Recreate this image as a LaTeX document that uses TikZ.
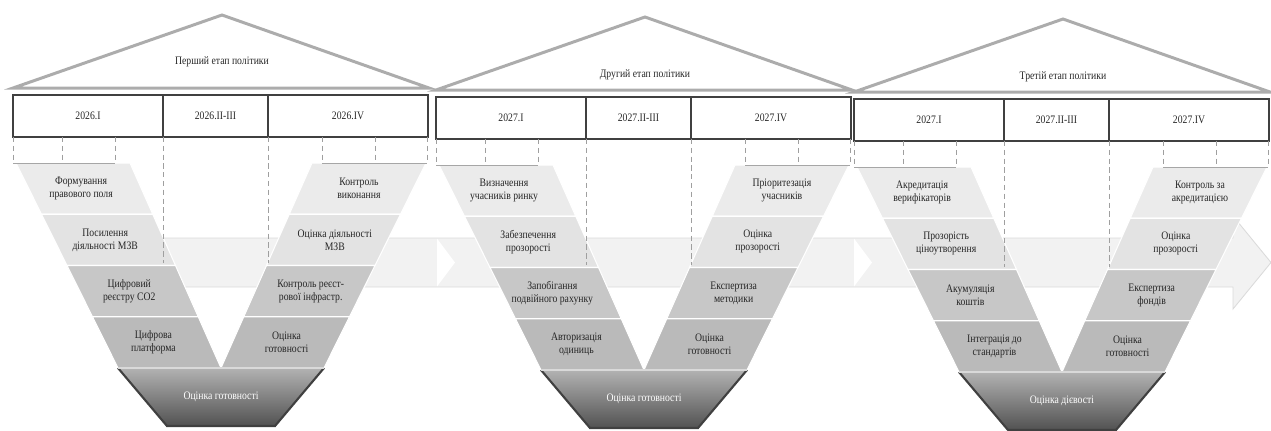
\documentclass[tikz,border=0pt]{standalone}
\usepackage{fontspec}
\setmainfont{Liberation Serif}[FakeStretch=0.85]
\usepackage{tikz}
\usetikzlibrary{calc}
\tikzset{roof/.style={draw=gray!65,line width=1.7pt,line join=miter},
  qbox/.style={draw=black!75,line width=0.8pt},
  tick/.style={draw=gray!75,densely dashed,line width=0.45pt},
  lbl/.style={align=center,inner sep=1pt,text=black!85,font=\fontsize{6.5}{7.4}\selectfont},
  flow/.style={fill=black!5,draw=black!14,line width=0.5pt}}

% roof with the stage title
\newcommand{\vroof}[3]{%
  \draw[roof] (0,88) -- (209,15) -- (416,88) -- cycle;
  \node[lbl] (#1t) at (209,#2) {#3};}
% band of the V, left and right arm
\newcommand{\vband}[4]{%
  \pgfmathsetmacro{\ya}{163+(#2-1)*51.25}
  \pgfmathsetmacro{\yb}{\ya+51.25}
  \pgfmathsetmacro{\oa}{3+(\ya-163)*0.4976}
  \pgfmathsetmacro{\ob}{3+(\yb-163)*0.4976}
  \pgfmathsetmacro{\ia}{117+(\ya-163)*0.4439}
  \pgfmathsetmacro{\ib}{117+(\yb-163)*0.4439}
  \pgfmathtruncatemacro{\gv}{{8,11,22,27}[#2-1]}
  \filldraw[fill=black!\gv,draw=white,line width=0.6pt] (\oa,\ya) -- (\ia,\ya) -- (\ib,\yb) -- (\ob,\yb) -- cycle;
  \filldraw[fill=black!\gv,draw=white,line width=0.6pt] (416-\oa,\ya) -- (416-\ia,\ya) -- (416-\ib,\yb) -- (416-\ob,\yb) -- cycle;
  \node[lbl] (#1l#2) at ({(\oa+\ob+\ia+\ib)/4-4},{(\ya+\yb)/2}) {#3};
  \node[lbl] (#1r#2) at ({416-(\oa+\ob+\ia+\ib)/4+2},{(\ya+\yb)/2}) {#4};}
% quarter row and the dashed ticks
\newcommand{\vquarters}[4]{%
  \draw[qbox] (0,95) rectangle (415,137);
  \draw[qbox] (150,95) -- (150,137) (255,95) -- (255,137);
  \node[lbl] (#1q1) at (75,116) {#2};
  \node[lbl] (#1q2) at (202.5,116) {#3};
  \node[lbl] (#1q3) at (335,116) {#4};
  \foreach \tx in {0,49,102,309,362,414} \draw[tick] (\tx,137) -- (\tx,163);
  \foreach \tx in {150,255} \draw[tick] (\tx,137) -- (\tx,263);
  \draw[gray!70,line width=0.5pt] (0,163) -- (102,163) (309,163) -- (414,163);}
% dark base of the V
\newcommand{\vbase}[2]{%
  \shade[top color=black!30,bottom color=black!68] (105,368) -- (311,368) -- (262,426) -- (154,426) -- cycle;
  \draw[black!75,line width=1.2pt] (105,368) -- (154,426) -- (262,426) -- (311,368);
  \draw[white!85!black,line width=0.8pt] (105,368) -- (311,368);
  \node[lbl,text=white] (#1b) at (208,397) {#2};}

\begin{document}
\begin{tikzpicture}[x=0.2mm,y=-0.2mm]
\useasboundingbox (0,0) rectangle (1271,430);
% flow arrow behind the stages
\draw[flow] (150,238) -- (1233,238) -- (1233,216) -- (1271,262.5) -- (1233,309) -- (1233,287) -- (150,287) -- cycle;
\foreach \nx in {437,854} \fill[white] (\nx,238.5) -- ++(18,24) -- ++(-18,24) -- cycle;

% stage 1
\begin{scope}[shift={(13,0)}]
\vroof{s1}{62}{Перший етап політики}
\vband{s1}{1}{Формування\\правового поля}{Контроль\\виконання}
\vband{s1}{2}{Посилення\\діяльності МЗВ}{Оцінка діяльності\\МЗВ}
\vband{s1}{3}{Цифровий\\реєстру CO2}{Контроль реєст-\\рової інфрастр.}
\vband{s1}{4}{Цифрова\\платформа}{Оцінка\\готовності}
\vquarters{s1}{2026.I}{2026.II-III}{2026.IV}
\vbase{s1}{Оцінка готовності}
\end{scope}

% stage 2
\begin{scope}[shift={(436,2)}]
\vroof{s2}{73}{Другий етап політики}
\vband{s2}{1}{Визначення\\учасників ринку}{Пріоритезація\\учасників}
\vband{s2}{2}{Забезпечення\\прозорості}{Оцінка\\прозорості}
\vband{s2}{3}{Запобігання\\подвійного рахунку}{Експертиза\\методики}
\vband{s2}{4}{Авторизація\\одиниць}{Оцінка\\готовності}
\vquarters{s2}{2027.I}{2027.II-III}{2027.IV}
\vbase{s2}{Оцінка готовності}
\end{scope}

% stage 3
\begin{scope}[shift={(854,4)}]
\vroof{s3}{73}{Третій етап політики}
\vband{s3}{1}{Акредитація\\верифікаторів}{Контроль за\\акредитацією}
\vband{s3}{2}{Прозорість\\ціноутворення}{Оцінка\\прозорості}
\vband{s3}{3}{Акумуляція\\коштів}{Експертиза\\фондів}
\vband{s3}{4}{Інтеграція до\\стандартів}{Оцінка\\готовності}
\vquarters{s3}{2027.I}{2027.II-III}{2027.IV}
\vbase{s3}{Оцінка дієвості}
\end{scope}
\end{tikzpicture}
\end{document}
